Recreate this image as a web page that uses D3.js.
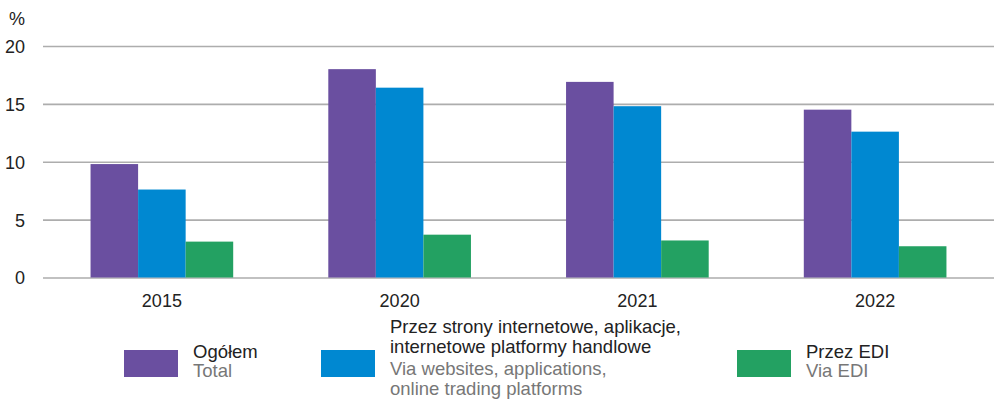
<!DOCTYPE html>
<html lang="pl">
<head>
  <meta charset="UTF-8">
  <title>Sprzedaż przez internet</title>
  <script src="https://d3js.org/d3.v7.min.js"></script>
  <style>
    body {
      margin: 0;
      background: #fff;
      font-family: 'Liberation Sans', Arial, sans-serif;
    }
    .grid line { stroke: #adadad; stroke-width: 1.6px; }
    .grid path { display: none; }
    .tick text { fill: #222; }
  </style>
</head>
<body>
  <div id="chart"></div>
  <script>
    const years = ["2015", "2020", "2021", "2022"];
    const seriesKeys = ["total", "web", "edi"];
    const totalValues = [9.8, 18.0, 16.9, 14.5];
    const webValues = [7.6, 16.4, 14.8, 12.6];
    const ediValues = [3.1, 3.7, 3.2, 2.7];
    const yTicks = [0, 5, 10, 15, 20];
    const colors = ["#6a4fa0", "#0088d1", "#23a162"];
    const legendPl = [["Ogółem"], ["Przez strony internetowe, aplikacje,", "internetowe platformy handlowe"], ["Przez EDI"]];
    const legendEn = [["Total"], ["Via websites, applications,", "online trading platforms"], ["Via EDI"]];

    const rows = years.map((y, i) => ({ year: y, total: totalValues[i], web: webValues[i], edi: ediValues[i] }));

    const W = 994, H = 399;
    const m = { left: 43, right: 0, top: 46, bottom: 121.5 };
    const font = "'Liberation Sans', Arial, sans-serif";

    const svg = d3.select("#chart").append("svg")
      .attr("width", W).attr("height", H);

    const x0 = d3.scaleBand().domain(years)
      .range([m.left, W - m.right])
      .paddingInner(0.4).paddingOuter(0.2);
    const x1 = d3.scaleBand().domain(seriesKeys).range([0, x0.bandwidth()]);
    const y = d3.scaleLinear().domain([0, 20]).range([H - m.bottom, m.top]);

    // grid lines
    svg.append("g").attr("class", "grid")
      .attr("transform", `translate(${m.left},0)`)
      .call(d3.axisRight(y).tickValues(yTicks).tickSize(W - m.left - m.right).tickFormat(""));

    // y labels
    svg.append("g")
      .attr("transform", `translate(25,0)`)
      .call(d3.axisLeft(y).tickValues(yTicks).tickSize(0))
      .call(g => g.select(".domain").remove())
      .selectAll("text").attr("x", 0).attr("dy", "0.36em")
      .style("font-size", "18px").style("font-family", font);

    svg.append("text").attr("x", 25).attr("y", 25).attr("text-anchor", "end")
      .style("font-size", "18px").attr("fill", "#222").text("%");

    // bars
    const grp = svg.selectAll(".grp").data(rows).enter().append("g")
      .attr("transform", d => `translate(${x0(d.year)},0)`);
    grp.selectAll("rect")
      .data(d => seriesKeys.map((k, i) => ({ k, i, v: d[k] })))
      .enter().append("rect")
      .attr("x", d => x1(d.k))
      .attr("width", x1.bandwidth())
      .attr("y", d => y(d.v))
      .attr("height", d => y(0) - y(d.v))
      .attr("fill", d => colors[d.i]);

    // x labels
    svg.append("g")
      .attr("transform", `translate(0,${y(0)})`)
      .call(d3.axisBottom(x0).tickSize(0).tickPadding(16.5))
      .call(g => g.select(".domain").remove())
      .selectAll("text").style("font-size", "18px").style("font-family", font);

    // legend
    const legendX = [124, 321, 737];
    const lg = svg.selectAll(".lg").data(seriesKeys).enter().append("g")
      .attr("transform", (d, i) => `translate(${legendX[i]},350)`);
    lg.append("rect").attr("width", 54).attr("height", 27)
      .attr("fill", (d, i) => colors[i]);
    lg.each(function (d, i) {
      const g = d3.select(this);
      const pl = legendPl[i], en = legendEn[i];
      const start = 8 - (pl.length - 1) * 25;
      pl.forEach((t, j) => {
        g.append("text").attr("x", 69).attr("y", start + j * 20)
          .style("font-size", "18.5px").attr("fill", "#222").text(t);
      });
      const enStart = start + (pl.length - 1) * 20 + (pl.length === 1 ? 19 : 22);
      en.forEach((t, j) => {
        g.append("text").attr("x", 69).attr("y", enStart + j * 19.5)
          .style("font-size", "18.5px").attr("fill", "#777").text(t);
      });
    });
  </script>
</body>
</html>
